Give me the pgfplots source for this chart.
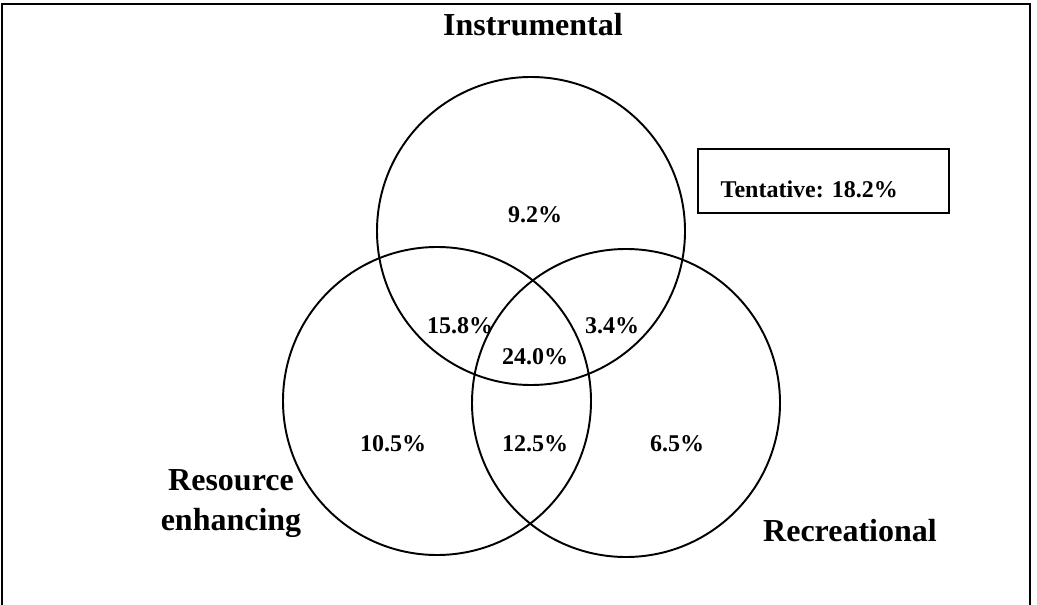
\documentclass[border=0pt]{standalone}
\usepackage{fontspec}
\setmainfont{Liberation Serif}
\usepackage{pgfplots}
\pgfplotsset{compat=1.18}

\begin{document}
\begin{tikzpicture}
\begin{axis}[
  width=777.75pt, height=453.75pt, scale only axis,
  xmin=0, xmax=1037, ymin=0, ymax=605, y dir=reverse,
  hide axis, clip=false,
  every node/.append style={font=\bfseries},
]
% outer frame (bottom edge lies outside the picture)
\draw[line width=2pt] (axis cs:2,610) -- (axis cs:2,4) -- (axis cs:1030,4) -- (axis cs:1030,610);

% the three sets
\draw[line width=1.45pt] (axis cs:531,231) circle[radius=154];
\draw[line width=1.45pt] (axis cs:437,401) circle[radius=154];
\draw[line width=1.45pt] (axis cs:626,403) circle[radius=154];

% set names
\node[font=\fontsize{24}{26}\selectfont\bfseries] at (axis cs:533,25) {Instrumental};
\node[font=\fontsize{24}{30}\selectfont\bfseries, align=center] at (axis cs:231,504) {Resource\\enhancing};
\node[font=\fontsize{24}{26}\selectfont\bfseries] at (axis cs:850,531) {Recreational};

% shares
\begin{scope}[every node/.style={font=\fontsize{18}{20}\selectfont\bfseries}]
\node at (axis cs:535,215) {9.2\%};
\node at (axis cs:460,326) {15.8\%};
\node at (axis cs:612,326) {3.4\%};
\node at (axis cs:535,357) {24.0\%};
\node at (axis cs:393,444) {10.5\%};
\node at (axis cs:535,444) {12.5\%};
\node at (axis cs:677,444) {6.5\%};
\end{scope}

% tentative box
\draw[line width=1.45pt] (axis cs:698,149) rectangle (axis cs:949,213);
\node[anchor=west, font=\fontsize{18}{20}\selectfont\bfseries] at (axis cs:716,189) {Tentative: 18.2\%};
\end{axis}
\pgfresetboundingbox
\path (current axis.south west) rectangle (current axis.north east);
\end{tikzpicture}
\end{document}
